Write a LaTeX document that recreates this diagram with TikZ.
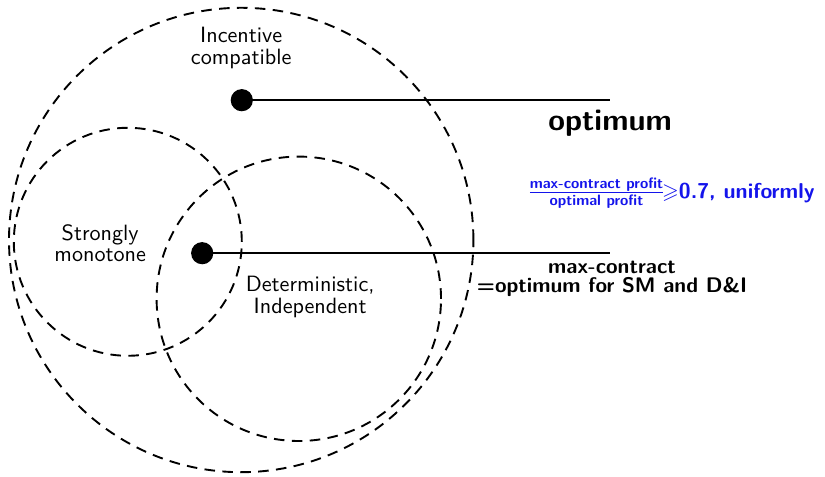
\documentclass[tikz,border=0pt]{standalone}
\usepackage{amsmath,amssymb}
\usepackage{tikz}
\usetikzlibrary{positioning,calc}
\usepackage{xcolor}
\definecolor{ratioBlue}{RGB}{20,20,235}

\begin{document}
\begin{tikzpicture}[
      font=\sffamily,
      setline/.style={dashed, line width=0.9pt, dash pattern=on 5pt off 3.5pt},
      dot/.style={circle, fill=black, inner sep=0pt, minimum size=0.37cm},
      classlabel/.style={align=center, font=\sffamily\fontsize{10.5}{12}\selectfont, inner sep=1pt},
      solution/.style={line width=0.9pt},
    ]
    \useasboundingbox (0,0) rectangle (13.75,7.95);

    % ---------- conjuntos ----------
    \draw[setline] (4.02,3.95) circle (3.87);
    \draw[setline] (2.13,3.92) circle (1.90);
    \draw[setline] (4.98,2.97) circle (2.37);

    \node[classlabel] (ic) at (4.02,7.15) {Incentive\\[-2pt]compatible};
    \node[classlabel] (sm) at (1.67,3.90) {Strongly\\[-2pt]monotone};
    \node[classlabel] (di) at (5.17,3.00) {Deterministic,\\[-2pt]Independent};

    % ---------- puntos y soluciones ----------
    \node[dot] (opt) at (4.03,6.28) {};
    \node[dot] (mc)  at (3.37,3.73) {};
    \coordinate (optEnd) at (10.17,6.28);
    \coordinate (mcEnd)  at (10.17,3.73);

    \draw[solution] (opt.center) -- (optEnd);
    \draw[solution] (mc.center) -- (mcEnd);

    \node[font=\sffamily\bfseries\Large] (optText) at (10.17,5.90) {optimum};
    \node[align=center, font=\sffamily\bfseries, inner sep=1pt] (mcText) at (10.20,3.30)
      {max-contract\\[-3pt]=optimum for SM and D\&I};

    % ---------- cota de aproximacion ----------
    \node[anchor=west, text=ratioBlue, font=\sffamily\bfseries\fontsize{10.2}{12}\selectfont, inner sep=0pt]
      (ratio) at (8.78,4.73)
      {$\frac{\text{\bfseries max-contract profit}}{\text{\bfseries optimal profit}}\!{\geqslant}$0.7, uniformly};

  \end{tikzpicture}
\end{document}
